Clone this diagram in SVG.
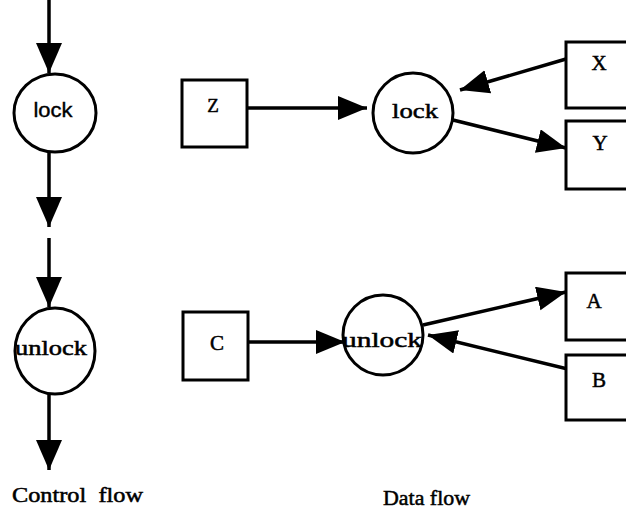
<svg xmlns="http://www.w3.org/2000/svg" width="626" height="510" viewBox="0 0 626 510">
<style>
.edge{stroke:#000;stroke-width:3.5;fill:none}
.shape{stroke:#000;stroke-width:3;fill:#fff}
.serif{font-family:"Liberation Serif","Times New Roman",serif;fill:#000;stroke:#000;stroke-width:0.5}
.sans{font-family:"Liberation Sans",Arial,sans-serif;fill:#000;stroke:#000;stroke-width:0.4}
</style>
<defs>
<marker id="ah" markerUnits="userSpaceOnUse" markerWidth="32" markerHeight="28" refX="30" refY="13" orient="auto" viewBox="0 0 32 28">
<path d="M0,0 L30,13 L0,26 Z" fill="#000"/>
</marker>
<marker id="ah2" markerUnits="userSpaceOnUse" markerWidth="32" markerHeight="26" refX="29" refY="12" orient="auto" viewBox="0 0 32 26">
<path d="M0,0 L29,12 L0,24 Z" fill="#000"/>
</marker>
</defs>
<g id="connectors">
<line class="edge" x1="49" y1="0" x2="49" y2="73" marker-end="url(#ah)"/>
<line class="edge" x1="49" y1="153" x2="49" y2="227" marker-end="url(#ah)"/>
<line class="edge" x1="49" y1="238" x2="49" y2="307" marker-end="url(#ah)"/>
<line class="edge" x1="49" y1="395" x2="49" y2="470" marker-end="url(#ah)"/>
<line class="edge" x1="247" y1="108" x2="367" y2="108" marker-end="url(#ah2)"/>
<line class="edge" x1="566" y1="59" x2="460" y2="90" marker-end="url(#ah2)"/>
<line class="edge" x1="453" y1="120" x2="566" y2="148" marker-end="url(#ah2)"/>
<line class="edge" x1="248" y1="342" x2="345" y2="342" marker-end="url(#ah2)"/>
<line class="edge" x1="423" y1="325" x2="566" y2="292" marker-end="url(#ah2)"/>
<line class="edge" x1="580" y1="372" x2="428" y2="335" marker-end="url(#ah2)"/>
</g>
<g id="cf-lock">
<ellipse class="shape" cx="55" cy="113" rx="41" ry="39"/>
<text class="sans" x="53" y="117" font-size="21" text-anchor="middle" textLength="39" lengthAdjust="spacingAndGlyphs">lock</text>
</g>
<g id="cf-unlock">
<ellipse class="shape" cx="55" cy="351" rx="40" ry="43"/>
<text class="serif" x="51" y="355" font-size="21" text-anchor="middle" textLength="72" lengthAdjust="spacingAndGlyphs">unlock</text>
</g>
<g id="node-z">
<rect class="shape" x="182" y="80" width="65" height="67"/>
<text class="serif" x="213" y="112" font-size="19" text-anchor="middle">Z</text>
</g>
<g id="df-lock">
<circle class="shape" cx="413" cy="113" r="40"/>
<text class="serif" x="415" y="118" font-size="22" text-anchor="middle" textLength="46" lengthAdjust="spacingAndGlyphs">lock</text>
</g>
<g id="node-x">
<rect class="shape" x="566" y="42" width="70" height="66"/>
<text class="serif" x="599" y="70" font-size="21" text-anchor="middle">X</text>
</g>
<g id="node-y">
<rect class="shape" x="566" y="121" width="70" height="68"/>
<text class="serif" x="600" y="150" font-size="21" text-anchor="middle">Y</text>
</g>
<g id="node-c">
<rect class="shape" x="183" y="312" width="65" height="68"/>
<text class="serif" x="217" y="350" font-size="21" text-anchor="middle">C</text>
</g>
<g id="df-unlock">
<circle class="shape" cx="383" cy="335" r="40"/>
<text class="serif" x="382" y="347" font-size="22" text-anchor="middle" textLength="80" lengthAdjust="spacingAndGlyphs">unlock</text>
</g>
<g id="node-a">
<rect class="shape" x="566" y="273" width="70" height="67"/>
<text class="serif" x="594" y="308" font-size="21" text-anchor="middle">A</text>
</g>
<g id="node-b">
<rect class="shape" x="566" y="355" width="70" height="65"/>
<text class="serif" x="599" y="387" font-size="21" text-anchor="middle">B</text>
</g>
<g id="captions">
<text class="serif" x="12" y="502" font-size="21" textLength="131" lengthAdjust="spacingAndGlyphs" xml:space="preserve">Control  flow</text>
<text class="serif" x="383" y="505" font-size="21" textLength="87" lengthAdjust="spacingAndGlyphs">Data flow</text>
</g>
</svg>
